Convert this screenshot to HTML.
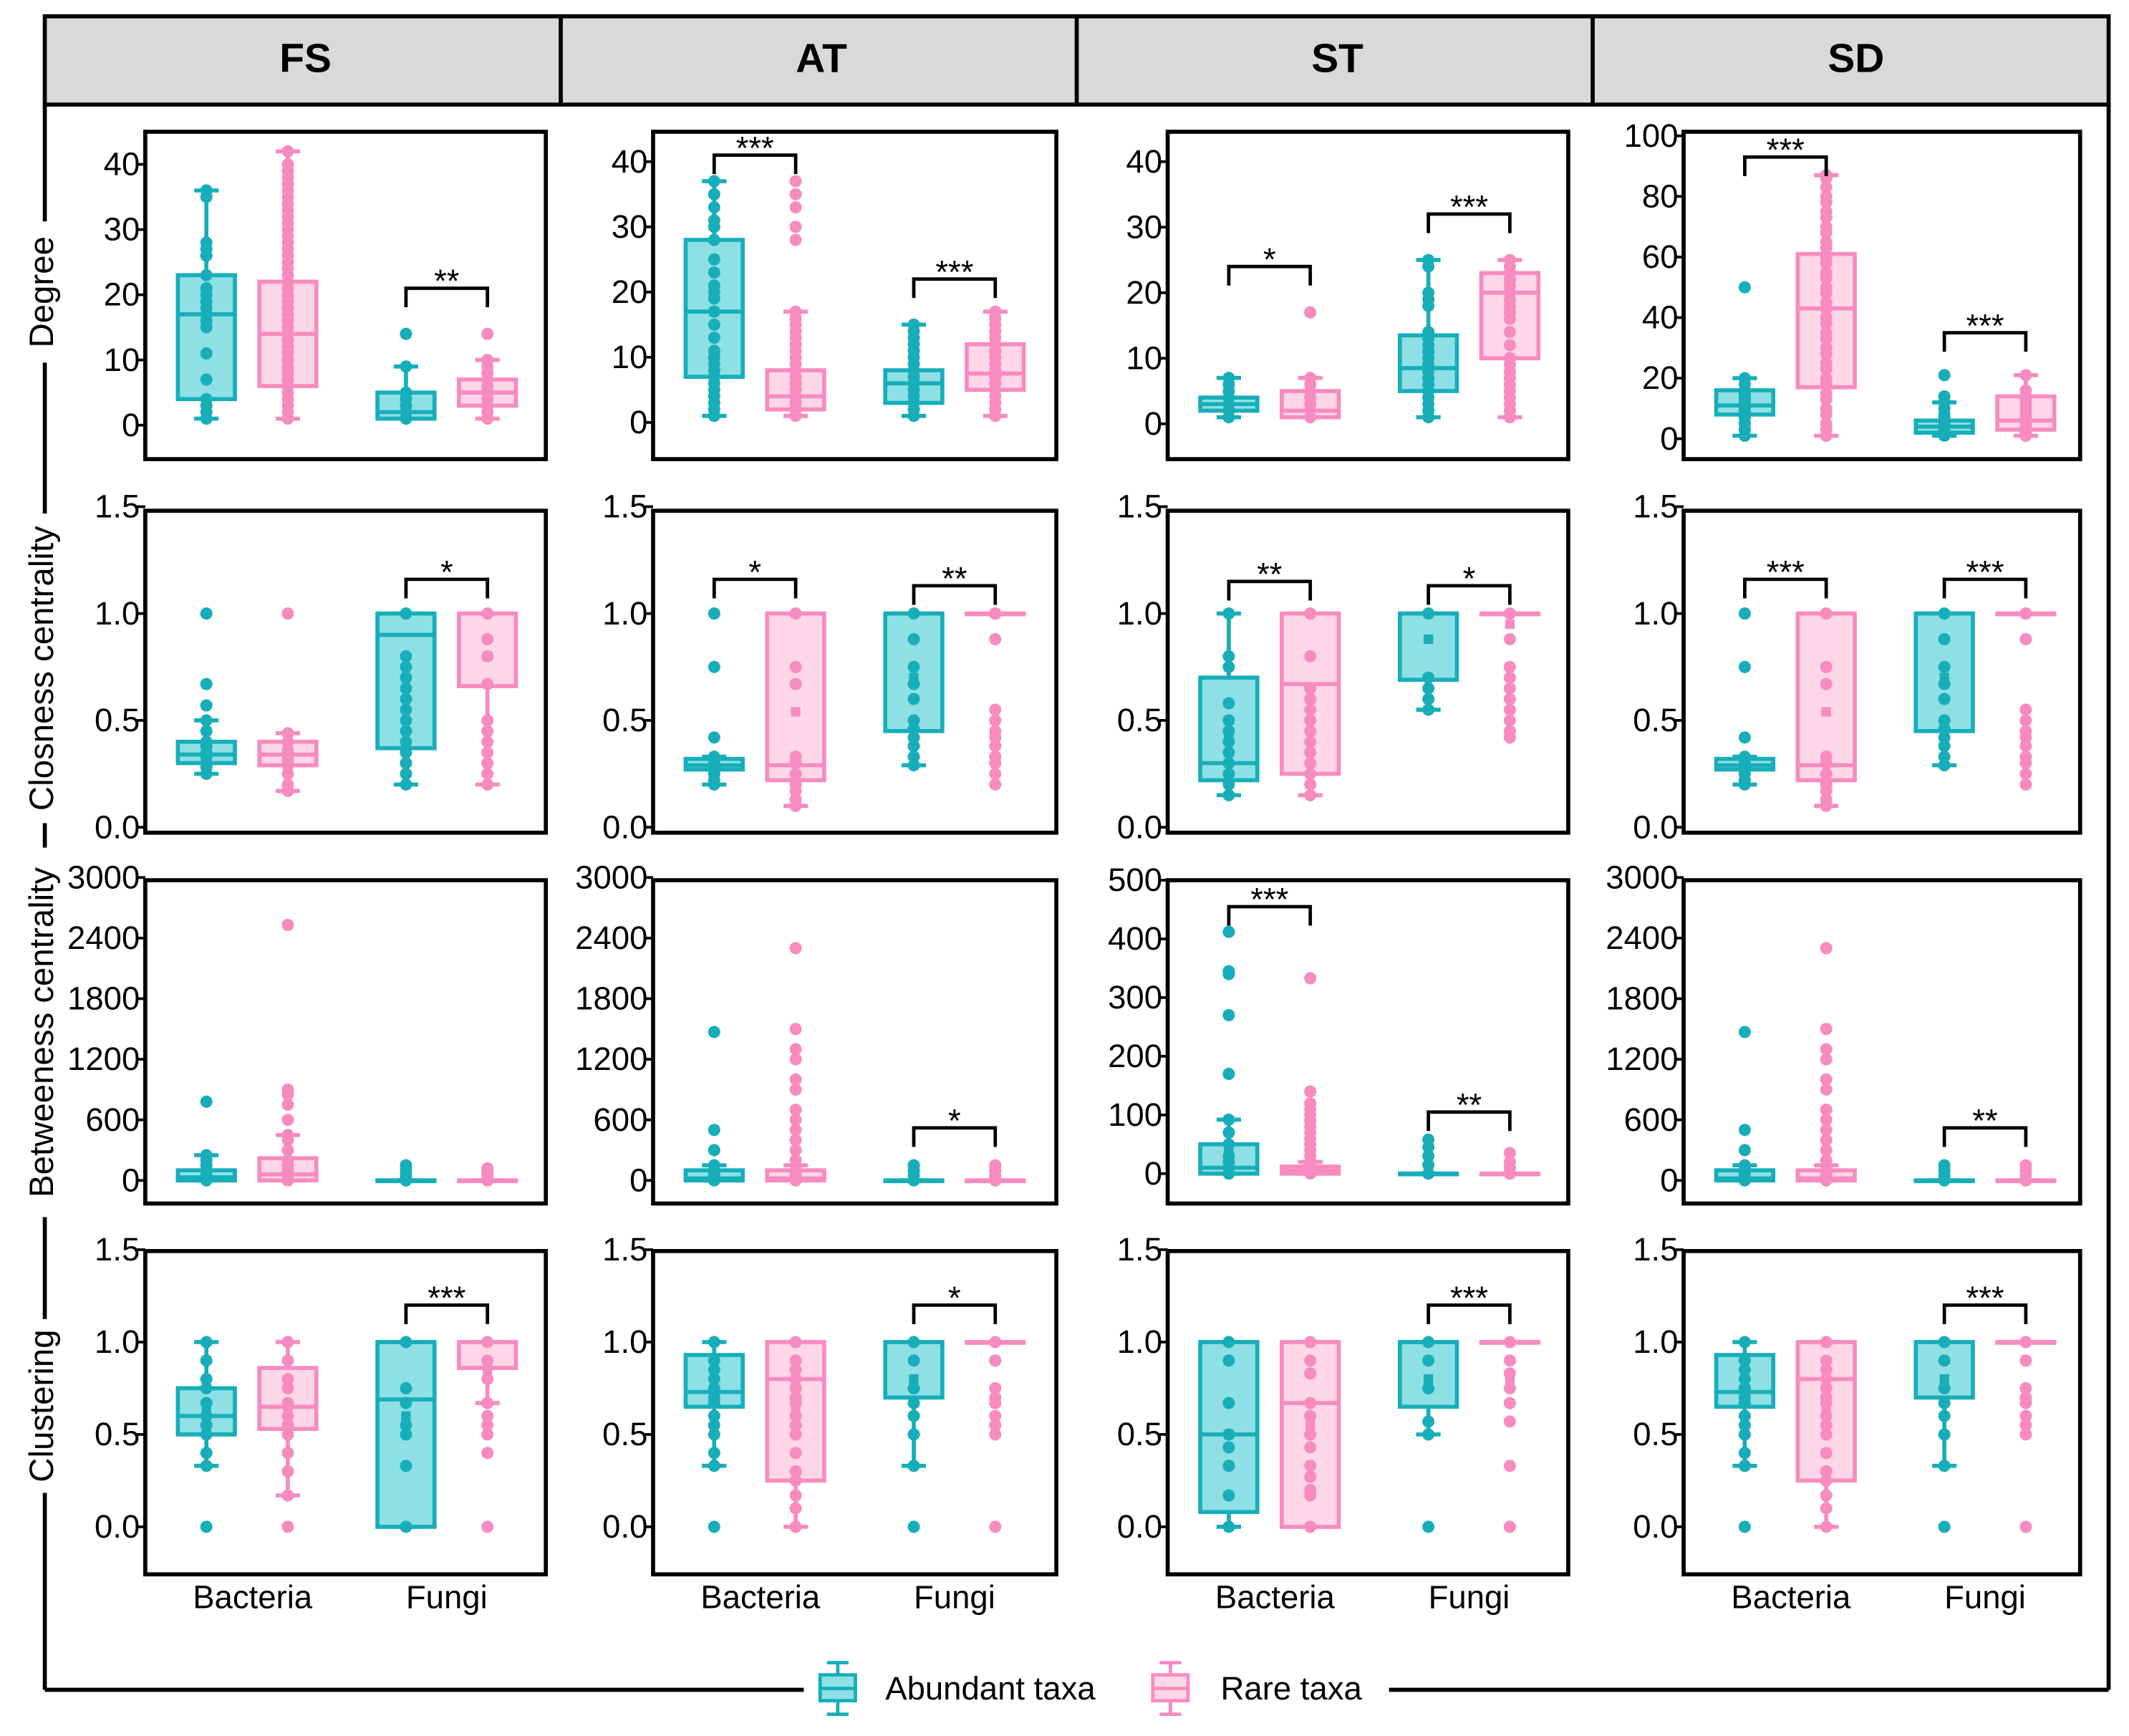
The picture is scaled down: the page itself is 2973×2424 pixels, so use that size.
<!DOCTYPE html>
<html><head><meta charset="utf-8"><style>
html,body{margin:0;padding:0;background:#fff;}
svg{display:block;font-family:"Liberation Sans",Arial,sans-serif;}
</style></head><body>
<svg id="fig" width="2973" height="2424" viewBox="0 0 1568 1278" preserveAspectRatio="none" xmlns="http://www.w3.org/2000/svg">
<rect x="0" y="0" width="1568" height="1278" fill="#fff"/>
<rect x="33" y="12" width="1520" height="65" fill="#d9d9d9" stroke="#000" stroke-width="3"/>
<line x1="413" y1="12" x2="413" y2="77" stroke="#000" stroke-width="3"/>
<line x1="793" y1="12" x2="793" y2="77" stroke="#000" stroke-width="3"/>
<line x1="1173" y1="12" x2="1173" y2="77" stroke="#000" stroke-width="3"/>
<text x="225" y="53" font-size="30" font-weight="bold" text-anchor="middle">FS</text>
<text x="605" y="53" font-size="30" font-weight="bold" text-anchor="middle">AT</text>
<text x="985" y="53" font-size="30" font-weight="bold" text-anchor="middle">ST</text>
<text x="1367" y="53" font-size="30" font-weight="bold" text-anchor="middle">SD</text>
<line x1="1553" y1="77" x2="1553" y2="1244" stroke="#000" stroke-width="3"/>
<line x1="33" y1="1244" x2="592" y2="1244" stroke="#000" stroke-width="3"/>
<line x1="1023" y1="1244" x2="1553" y2="1244" stroke="#000" stroke-width="3"/>
<g id="leftframe"></g>
<g id="plots"></g>
<g>
 <g>
  <line x1="617" y1="1224" x2="617" y2="1262" stroke="#17aeb9" stroke-width="2.5"/>
  <line x1="609" y1="1224" x2="625" y2="1224" stroke="#17aeb9" stroke-width="2.5"/>
  <line x1="609" y1="1262" x2="625" y2="1262" stroke="#17aeb9" stroke-width="2.5"/>
  <rect x="604" y="1233" width="26" height="19" fill="#8ee0e4" stroke="#17aeb9" stroke-width="2.5"/>
  <line x1="604" y1="1243" x2="630" y2="1243" stroke="#17aeb9" stroke-width="2.5"/>
  <text x="652" y="1251" font-size="24">Abundant taxa</text>
 </g>
 <g>
  <line x1="862" y1="1224" x2="862" y2="1262" stroke="#f78bc0" stroke-width="2.5"/>
  <line x1="854" y1="1224" x2="870" y2="1224" stroke="#f78bc0" stroke-width="2.5"/>
  <line x1="854" y1="1262" x2="870" y2="1262" stroke="#f78bc0" stroke-width="2.5"/>
  <rect x="849" y="1233" width="26" height="19" fill="#fdd6e8" stroke="#f78bc0" stroke-width="2.5"/>
  <line x1="849" y1="1243" x2="875" y2="1243" stroke="#f78bc0" stroke-width="2.5"/>
  <text x="899" y="1251" font-size="24">Rare taxa</text>
 </g>
</g>
</svg>
<script>
const categories = ["Bacteria", "Fungi"];
const groups = ["Abundant taxa", "Rare taxa"];
const columns = ["FS", "AT", "ST", "SD"];
const rowTitles = ["Degree", "Closness centrality", "Betweeness centrality", "Clustering"];

const FS_deg = [[1,4,17,23,36,16],[1,6,14,22,42,15],[1,1,2,5,9,3.5],[1,3,5,7,10,5]];
const FS_deg_pts = [[1,2,3,4,7,11,15,16,17,18,19,20,21,23,26,27,28,35,36],[1,2,3,4,5,6,7,8,9,10,11,12,13,14,15,16,17,18,19,20,21,22,23,24,25,26,27,28,29,30,31,32,33,34,35,36,37,38,39,40,42],[1,2,3,4,5,9,14],[1,2,3,4,5,6,7,8,9,10,14]];
const FS_deg_sig = [[2,3,21,"**"]];

const AT_deg = [[1,7,17,28,37,17],[1,2,4,8,17,6],[1,3,6,8,15,6],[1,5,7.5,12,17,8]];
const AT_deg_pts = [[1,2,3,4,5,6,7,8,9,10,11,13,15,17,19,20,21,23,25,28,30,31,33,35,37],[1,2,3,4,5,6,7,8,9,10,11,12,13,14,15,16,17,28,30,33,35,37],[1,2,3,4,5,6,7,8,9,10,11,12,13,14,15],[1,2,3,4,5,6,7,8,9,10,11,12,13,14,15,16,17]];
const AT_deg_sig = [[0,1,41,"***"],[2,3,22,"***"]];

const ST_deg = [[1,2,3,4,7,3],[1,1,2,5,7,3],[1,5,8.5,13.5,25,10],[1,10,20,23,25,17]];
const ST_deg_pts = [[1,2,3,4,5,6,7],[1,2,3,4,5,6,7,17],[1,2,3,4,5,6,7,8,9,10,11,12,13,14,18,19,20,24,25],[1,2,3,4,5,6,7,8,9,10,12,14,16,17,18,19,20,21,22,23,24,25]];
const ST_deg_sig = [[0,1,24,"*"],[2,3,32,"***"]];

const SD_deg = [[1,8,11,16,20,12],[1,17,43,61,87,42],[1,2,4,6,12,5],[1,3,6,14,21,9]];
const SD_deg_pts = [[1,3,5,7,9,10,11,12,13,14,15,16,18,20,50],[1,3,5,8,10,13,15,18,20,23,25,28,30,33,35,38,40,43,45,48,50,53,55,58,60,63,65,68,70,73,75,78,80,83,86,87],[1,2,3,4,5,6,7,8,10,12,14,21],[1,2,3,4,5,6,7,8,9,10,11,12,13,14,16,21]];
const SD_deg_sig = [[0,1,93,"***"],[2,3,35,"***"]];

const FS_clo = [[0.25,0.3,0.34,0.4,0.5,0.36],[0.17,0.29,0.34,0.4,0.44,0.34],[0.2,0.37,0.9,1.0,1.0,0.7],[0.2,0.66,0.66,1.0,1.0,0.8]];
const FS_clo_pts = [[0.25,0.28,0.3,0.33,0.35,0.38,0.4,0.45,0.5,0.57,0.67,1.0],[0.17,0.2,0.25,0.29,0.31,0.33,0.36,0.4,0.44,1.0],[0.2,0.25,0.3,0.35,0.4,0.45,0.5,0.55,0.6,0.65,0.7,0.75,0.8,1.0],[0.2,0.25,0.3,0.35,0.4,0.45,0.5,0.67,0.8,0.88,1.0]];
const FS_clo_sig = [[2,3,1.16,"*"]];

const AT_clo = [[0.2,0.27,0.29,0.32,0.33,0.29],[0.1,0.22,0.29,1.0,1.0,0.54],[0.29,0.45,1.0,1.0,1.0,0.7],[1.0,1.0,1.0,1.0,1.0,1.0]];
const AT_clo_pts = [[0.2,0.22,0.25,0.28,0.3,0.33,0.42,0.75,1.0],[0.1,0.13,0.17,0.2,0.25,0.3,0.33,0.67,0.75,1.0],[0.29,0.33,0.38,0.42,0.46,0.5,0.6,0.67,0.75,0.88,1.0],[0.2,0.25,0.3,0.33,0.38,0.42,0.45,0.5,0.55,0.88,1.0]];
const AT_clo_sig = [[0,1,1.16,"*"],[2,3,1.13,"**"]];

const ST_clo = [[0.15,0.22,0.3,0.7,1.0,0.42],[0.15,0.25,0.67,1.0,1.0,0.6],[0.55,0.69,1.0,1.0,1.0,0.88],[1.0,1.0,1.0,1.0,1.0,0.95]];
const ST_clo_pts = [[0.15,0.2,0.25,0.3,0.35,0.4,0.45,0.5,0.58,0.75,0.8,1.0],[0.15,0.2,0.25,0.3,0.35,0.4,0.45,0.5,0.55,0.6,0.65,0.8,1.0],[0.55,0.6,0.65,0.7,1.0],[0.42,0.45,0.5,0.55,0.6,0.65,0.7,0.75,0.88,1.0]];
const ST_clo_sig = [[0,1,1.15,"**"],[2,3,1.13,"*"]];

const SD_clo = [[0.2,0.27,0.29,0.32,0.33,0.29],[0.1,0.22,0.29,1.0,1.0,0.54],[0.29,0.45,1.0,1.0,1.0,0.7],[1.0,1.0,1.0,1.0,1.0,1.0]];
const SD_clo_pts = [[0.2,0.22,0.25,0.28,0.3,0.33,0.42,0.75,1.0],[0.1,0.13,0.17,0.2,0.25,0.3,0.33,0.67,0.75,1.0],[0.29,0.33,0.38,0.42,0.46,0.5,0.6,0.67,0.75,0.88,1.0],[0.2,0.25,0.3,0.33,0.38,0.42,0.45,0.5,0.55,0.88,1.0]];
const SD_clo_sig = [[0,1,1.16,"***"],[2,3,1.16,"***"]];

const FS_bet = [[0,0,30,100,250,80],[0,0,60,220,450,150],[0,0,0,0,0,10],[0,0,0,0,0,8]];
const FS_bet_pts = [[0,20,50,100,150,200,250,780],[0,20,50,100,150,200,300,400,450,600,750,850,900,2530],[0,30,60,100,150],[0,30,60,90,120]];
const FS_bet_sig = [];

const AT_bet = [[0,0,20,100,150,60],[0,0,20,100,150,120],[0,0,0,0,0,10],[0,0,0,0,0,8]];
const AT_bet_pts = [[0,30,60,100,150,300,500,1470],[0,30,60,100,200,300,400,500,600,700,900,1000,1200,1300,1500,2300],[0,50,100,150],[0,50,100,150]];
const AT_bet_sig = [[2,3,520,"*"]];

const ST_bet = [[0,0,10,50,92,40],[0,0,5,12,20,15],[0,0,0,0,0,5],[0,0,0,0,0,3]];
const ST_bet_pts = [[0,10,20,30,50,70,92,170,270,340,345,412],[0,10,20,30,40,50,60,70,80,90,100,110,120,140,333],[0,15,30,45,58],[0,10,20,35]];
const ST_bet_sig = [[0,1,455,"***"],[2,3,105,"**"]];

const SD_bet = [[0,0,20,100,150,60],[0,0,20,100,150,120],[0,0,0,0,0,10],[0,0,0,0,0,8]];
const SD_bet_pts = [[0,30,60,100,150,300,500,1470],[0,30,60,100,200,300,400,500,600,700,900,1000,1200,1300,1500,2300],[0,50,100,150],[0,50,100,150]];
const SD_bet_sig = [[2,3,520,"**"]];

const FS_clu = [[0.33,0.5,0.6,0.75,1.0,0.62],[0.17,0.53,0.65,0.86,1.0,0.65],[0,0,0.69,1.0,1.0,0.6],[0.67,0.86,0.86,1.0,1.0,0.85]];
const FS_clu_pts = [[0,0.33,0.4,0.5,0.55,0.6,0.67,0.75,0.8,0.9,1.0],[0,0.17,0.3,0.4,0.5,0.55,0.6,0.67,0.75,0.8,0.9,1.0],[0,0.33,0.5,0.55,0.67,0.75,1.0],[0,0.4,0.5,0.55,0.6,0.67,0.8,0.9,1.0]];
const FS_clu_sig = [[2,3,1.2,"***"]];

const AT_clu = [[0.33,0.65,0.73,0.93,1.0,0.72],[0,0.25,0.8,1.0,1.0,0.62],[0.33,0.7,0.7,1.0,1.0,0.8],[1.0,1.0,1.0,1.0,1.0,0.9]];
const AT_clu_pts = [[0,0.33,0.4,0.5,0.55,0.6,0.67,0.7,0.75,0.8,0.85,0.9,1.0],[0,0.1,0.17,0.25,0.3,0.4,0.5,0.55,0.6,0.67,0.7,0.75,0.8,0.85,0.9,1.0],[0,0.33,0.5,0.6,0.67,0.75,0.9,1.0],[0,0.5,0.55,0.6,0.67,0.7,0.75,0.9,1.0]];
const AT_clu_sig = [[2,3,1.2,"*"]];

const ST_clu = [[0,0.08,0.5,1.0,1.0,0.5],[0,0,0.67,1.0,1.0,0.55],[0.5,0.65,1.0,1.0,1.0,0.8],[1.0,1.0,1.0,1.0,1.0,0.8]];
const ST_clu_pts = [[0,0.17,0.33,0.43,0.5,0.67,0.9,1.0],[0,0.17,0.2,0.27,0.33,0.43,0.5,0.6,0.67,0.83,0.9,1.0],[0,0.5,0.57,0.75,0.9,1.0],[0,0.33,0.57,0.67,0.75,0.83,0.9,1.0]];
const ST_clu_sig = [[2,3,1.2,"***"]];

const SD_clu = [[0.33,0.65,0.73,0.93,1.0,0.72],[0,0.25,0.8,1.0,1.0,0.62],[0.33,0.7,0.7,1.0,1.0,0.8],[1.0,1.0,1.0,1.0,1.0,0.9]];
const SD_clu_pts = [[0,0.33,0.4,0.5,0.55,0.6,0.67,0.7,0.75,0.8,0.85,0.9,1.0],[0,0.1,0.17,0.25,0.3,0.4,0.5,0.55,0.6,0.67,0.7,0.75,0.8,0.85,0.9,1.0],[0,0.33,0.5,0.6,0.67,0.75,0.9,1.0],[0,0.5,0.55,0.6,0.67,0.7,0.75,0.9,1.0]];
const SD_clu_sig = [[2,3,1.2,"***"]];

const degTicks = [0,10,20,30,40];
const degTicksSD = [0,20,40,60,80,100];
const cloTicks = [0.0,0.5,1.0,1.5];
const cloTickLabels = ["0.0","0.5","1.0","1.5"];
const betTicks = [0,600,1200,1800,2400,3000];
const betTicksST = [0,100,200,300,400,500];

const colX = [[107,402],[481,778],[860,1155],[1240,1532]];
const rowY = [[97,338],[376,613],[648,886],[921,1159]];
const offs = [45,105,192,252];
const COL = [{s:"#17aeb9",f:"#8ee0e4"},{s:"#f78bc0",f:"#fdd6e8"}];
const NS = "http://www.w3.org/2000/svg";
const plots = document.getElementById("plots");
function mk(tag, attrs, parent){const e=document.createElementNS(NS,tag);for(const k in attrs)e.setAttribute(k,attrs[k]);(parent||plots).appendChild(e);return e;}

const panels = [
 {c:0,r:0,st:FS_deg,pts:FS_deg_pts,sig:FS_deg_sig,ticks:degTicks,lab:degTicks,a:[0,313,40,121]},
 {c:1,r:0,st:AT_deg,pts:AT_deg_pts,sig:AT_deg_sig,ticks:degTicks,lab:degTicks,a:[0,311,40,119]},
 {c:2,r:0,st:ST_deg,pts:ST_deg_pts,sig:ST_deg_sig,ticks:degTicks,lab:degTicks,a:[0,312,40,119]},
 {c:3,r:0,st:SD_deg,pts:SD_deg_pts,sig:SD_deg_sig,ticks:degTicksSD,lab:degTicksSD,a:[0,323,100,100]},
 {c:0,r:1,st:FS_clo,pts:FS_clo_pts,sig:FS_clo_sig,ticks:cloTicks,lab:cloTickLabels,a:[0,609,1.5,373]},
 {c:1,r:1,st:AT_clo,pts:AT_clo_pts,sig:AT_clo_sig,ticks:cloTicks,lab:cloTickLabels,a:[0,609,1.5,373]},
 {c:2,r:1,st:ST_clo,pts:ST_clo_pts,sig:ST_clo_sig,ticks:cloTicks,lab:cloTickLabels,a:[0,609,1.5,373]},
 {c:3,r:1,st:SD_clo,pts:SD_clo_pts,sig:SD_clo_sig,ticks:cloTicks,lab:cloTickLabels,a:[0,609,1.5,373]},
 {c:0,r:2,st:FS_bet,pts:FS_bet_pts,sig:FS_bet_sig,ticks:betTicks,lab:betTicks,a:[0,869,3000,646]},
 {c:1,r:2,st:AT_bet,pts:AT_bet_pts,sig:AT_bet_sig,ticks:betTicks,lab:betTicks,a:[0,869,3000,646]},
 {c:2,r:2,st:ST_bet,pts:ST_bet_pts,sig:ST_bet_sig,ticks:betTicksST,lab:betTicksST,a:[0,864,500,648]},
 {c:3,r:2,st:SD_bet,pts:SD_bet_pts,sig:SD_bet_sig,ticks:betTicks,lab:betTicks,a:[0,869,3000,646]},
 {c:0,r:3,st:FS_clu,pts:FS_clu_pts,sig:FS_clu_sig,ticks:cloTicks,lab:cloTickLabels,a:[0,1124,1.5,920]},
 {c:1,r:3,st:AT_clu,pts:AT_clu_pts,sig:AT_clu_sig,ticks:cloTicks,lab:cloTickLabels,a:[0,1124,1.5,920]},
 {c:2,r:3,st:ST_clu,pts:ST_clu_pts,sig:ST_clu_sig,ticks:cloTicks,lab:cloTickLabels,a:[0,1124,1.5,920]},
 {c:3,r:3,st:SD_clu,pts:SD_clu_pts,sig:SD_clu_sig,ticks:cloTicks,lab:cloTickLabels,a:[0,1124,1.5,920]},
];

panels.forEach(p=>{
  const [x0,x1]=colX[p.c], [y0,y1]=rowY[p.r];
  const yS = v => p.a[1] + (v-p.a[0])*(p.a[3]-p.a[1])/(p.a[2]-p.a[0]);
  const xS = i => x0 + offs[i];
  const g = mk("g",{});
  
  
  p.ticks.forEach((t,k)=>{
    const y=yS(t);
    mk("line",{x1:x0-6,y1:y,x2:x0,y2:y,stroke:"#000","stroke-width":2},g);
    const tx=mk("text",{x:x0-4,y:y+8,"font-size":24,"text-anchor":"end"},g);
    tx.textContent=p.lab[k];
    
    
  });
  p.st.forEach((s,i)=>{
    const c=COL[i%2], cx=xS(i), w=21;
    const bg=mk("g",{},g);
    
    
    mk("line",{x1:cx,y1:yS(s[0]),x2:cx,y2:yS(s[4]),stroke:c.s,"stroke-width":3},bg);
    mk("line",{x1:cx-9,y1:yS(s[0]),x2:cx+9,y2:yS(s[0]),stroke:c.s,"stroke-width":3},bg);
    mk("line",{x1:cx-9,y1:yS(s[4]),x2:cx+9,y2:yS(s[4]),stroke:c.s,"stroke-width":3},bg);
    const top=yS(s[3]), bot=yS(s[1]);
    mk("rect",{x:cx-w,y:top,width:2*w,height:Math.max(bot-top,0.5),fill:c.f,stroke:c.s,"stroke-width":3},bg);
    mk("line",{x1:cx-w,y1:yS(s[2]),x2:cx+w,y2:yS(s[2]),stroke:c.s,"stroke-width":3},bg);
    p.pts[i].forEach(v=>{
      const d=mk("circle",{cx:cx,cy:yS(v),r:4.5,fill:c.s},bg);
      
      
    });
    mk("rect",{x:cx-3.5,y:yS(s[5])-3.5,width:7,height:7,fill:c.s},bg);
  });
  p.sig.forEach(b=>{
    const xa=xS(b[0]), xb=xS(b[1]), y=yS(b[2]);
    const sg=mk("g",{},g);
    
    
    mk("polyline",{points:`${xa},${y+14} ${xa},${y} ${xb},${y} ${xb},${y+14}`,fill:"none",stroke:"#000","stroke-width":2.5},sg);
    const t=mk("text",{x:(xa+xb)/2,y:y+3,"font-size":24,"text-anchor":"middle"},sg);
    t.textContent=b[3];
  });
  mk("rect",{x:x0,y:y0,width:x1-x0,height:y1-y0,fill:"none",stroke:"#000","stroke-width":3},g);
  if(p.r===3){
    categories.forEach((cat,k)=>{
      const t=mk("text",{x:(xS(2*k)+xS(2*k+1))/2+(k===0?4:0),y:1184,"font-size":24,"text-anchor":"middle"},g);
      t.textContent=cat;
      
      
    });
  }
});

const lf=document.getElementById("leftframe");
const titleY=[215,492,760,1035];
const halfLen=[52,114,136,64];
let prev=77;
titleY.forEach((cy,k)=>{
  mk("line",{x1:33,y1:prev,x2:33,y2:cy-halfLen[k]},lf).setAttribute("style","stroke:#000;stroke-width:3");
  const t=mk("text",{x:0,y:0,"font-size":25,"text-anchor":"middle",transform:`translate(39,${cy}) rotate(-90)`},lf);
  t.textContent=rowTitles[k];
  
  
  prev=cy+halfLen[k];
});
mk("line",{x1:33,y1:prev,x2:33,y2:1244},lf).setAttribute("style","stroke:#000;stroke-width:3");
</script>
</body></html>
